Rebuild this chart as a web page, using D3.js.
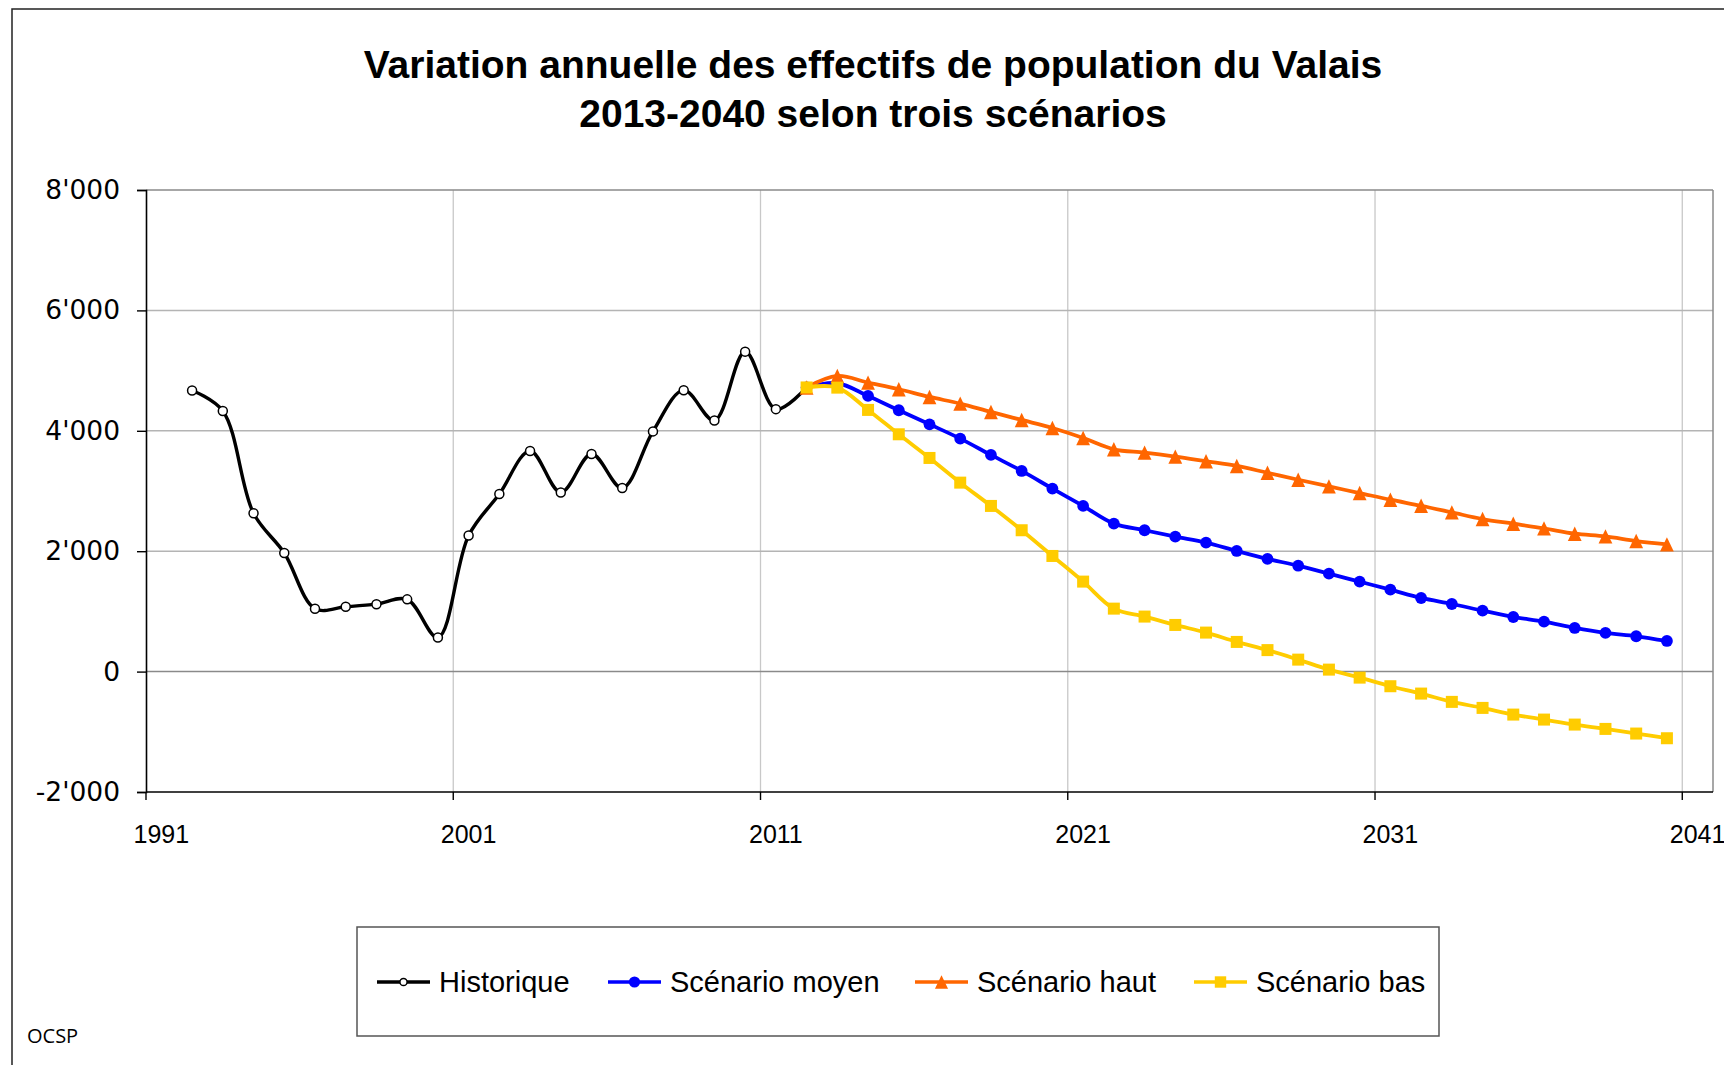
<!DOCTYPE html>
<html>
<head>
<meta charset="utf-8">
<script src="https://d3js.org/d3.v7.min.js"></script>
<style>
    body { margin: 0; background: #fff; }
    svg { display: block; font-family: "Liberation Sans", Arial, sans-serif; }
</style>
</head>
<body>
<div id="chart"></div>
<script>

// Historical data 1992-2012, scenarios 2012-2040 (base year 2012 shared)
var histYears = d3.range(1992, 2013);
var histValues = [4670, 4330, 2630, 1970, 1045, 1077, 1120, 1200, 565, 2260,
    2950, 3665, 2975, 3615, 3050, 3990, 4675, 4170, 5315, 4360, 4720];

var scenYears = d3.range(2012, 2041);
var moyenValues = [4720, 4790, 4579, 4341, 4108, 3870, 3599, 3333, 3040, 2752,
    2458, 2348, 2242, 2143, 2004, 1873, 1759, 1627, 1494, 1361,
    1223, 1123, 1013, 907, 830, 725, 642, 587, 509];
var hautValues = [4720, 4911, 4800, 4690, 4562, 4452, 4313, 4180, 4047, 3881,
    3693, 3638, 3571, 3494, 3416, 3302, 3187, 3076, 2966, 2855,
    2755, 2645, 2534, 2457, 2379, 2291, 2246, 2169, 2114];
var basValues = [4720, 4717, 4347, 3942, 3549, 3139, 2752, 2348, 1921, 1495,
    1046, 914, 775, 648, 493, 357, 199, 33, -100, -243,
    -365, -503, -603, -714, -797, -880, -952, -1029, -1107];

var axisYears = d3.range(1991, 2042);
var xTickYears = [1991, 2001, 2011, 2021, 2031, 2041];
var yTicks = [-2000, 0, 2000, 4000, 6000, 8000];

var titleLines = ["Variation annuelle des effectifs de population du Valais",
    "2013-2040 selon trois scénarios"];

var series = [
    {name: "Historique", years: histYears, values: histValues, color: "#000000", marker: "hist"},
    {name: "Scénario moyen", years: scenYears, values: moyenValues, color: "#0000FF", marker: "circle"},
    {name: "Scénario haut", years: scenYears, values: hautValues, color: "#FF6600", marker: "triangle"},
    {name: "Scénario bas", years: scenYears, values: basValues, color: "#FFCC00", marker: "square"}
];

var width = 1724, height = 1065;
var plot = {left: 146, right: 1713, top: 190, bottom: 792};

var svg = d3.select("#chart").append("svg")
    .attr("width", width)
    .attr("height", height);

// outer frame
svg.append("rect")
    .attr("x", 12).attr("y", 9)
    .attr("width", width).attr("height", height)
    .attr("fill", "none")
    .attr("stroke", "#222")
    .attr("stroke-width", 1.5);

// title
svg.selectAll(".title")
    .data(titleLines)
    .enter().append("text")
    .attr("class", "title")
    .attr("x", 873)
    .attr("y", function(d, i) { return 78 + i * 49; })
    .attr("text-anchor", "middle")
    .style("font-size", "39px")
    .style("font-weight", "bold")
    .text(function(d) { return d; });

// scales
var x = d3.scaleBand()
    .domain(axisYears)
    .range([plot.left, plot.right])
    .padding(0);

var y = d3.scaleLinear()
    .domain([-2000, 8000])
    .range([plot.bottom, plot.top]);

function cx(year) { return x(year) + x.bandwidth() / 2; }

var locale = d3.formatLocale({decimal: ".", thousands: "'", grouping: [3], currency: ["", ""], minus: "-"});
var fmt = locale.format(",d");

// grid lines
svg.append("g")
    .selectAll("line")
    .data(xTickYears.slice(1))
    .enter().append("line")
    .attr("x1", function(d) { return x(d); })
    .attr("x2", function(d) { return x(d); })
    .attr("y1", plot.top)
    .attr("y2", plot.bottom)
    .attr("stroke", "#c8c8c8")
    .attr("stroke-width", 1.3);

svg.append("g")
    .selectAll("line")
    .data(yTicks.slice(1))
    .enter().append("line")
    .attr("x1", plot.left)
    .attr("x2", plot.right)
    .attr("y1", function(d) { return y(d); })
    .attr("y2", function(d) { return y(d); })
    .attr("stroke", function(d) { return (d === 0 || d === 8000) ? "#8a8a8a" : "#b4b4b4"; })
    .attr("stroke-width", 1.5);

// right border of the plot area
svg.append("line")
    .attr("x1", plot.right).attr("x2", plot.right)
    .attr("y1", plot.top).attr("y2", plot.bottom)
    .attr("stroke", "#8a8a8a")
    .attr("stroke-width", 1.5);

// y axis
var yAxis = d3.axisLeft(y)
    .tickValues(yTicks)
    .tickFormat(fmt)
    .tickSize(9)
    .tickPadding(17);

var gy = svg.append("g")
    .attr("transform", "translate(" + plot.left + ",0)")
    .call(yAxis);
gy.select(".domain").attr("stroke", "#000").attr("stroke-width", 1.6);
gy.selectAll(".tick line").attr("stroke", "#000").attr("stroke-width", 1.4);
gy.selectAll(".tick text")
    .style("font-size", "26.5px")
    .style("font-family", "'DejaVu Sans', Verdana, sans-serif")
    .attr("fill", "#000");

// x axis: ticks at category boundaries, labels centred in categories
var gx = svg.append("g");
gx.append("line")
    .attr("x1", plot.left).attr("x2", plot.right)
    .attr("y1", plot.bottom).attr("y2", plot.bottom)
    .attr("stroke", "#000").attr("stroke-width", 1.6);
gx.selectAll(".xtick")
    .data(xTickYears)
    .enter().append("line")
    .attr("class", "xtick")
    .attr("x1", function(d) { return x(d); })
    .attr("x2", function(d) { return x(d); })
    .attr("y1", plot.bottom)
    .attr("y2", plot.bottom + 8)
    .attr("stroke", "#000").attr("stroke-width", 1.4);
gx.selectAll(".xlabel")
    .data(xTickYears)
    .enter().append("text")
    .attr("class", "xlabel")
    .attr("x", function(d) { return cx(d); })
    .attr("y", 843)
    .attr("text-anchor", "middle")
    .style("font-size", "25px")
    .text(function(d) { return d; });

// lines (smoothed like the spreadsheet original)
var line = d3.line()
    .x(function(d) { return cx(d.year); })
    .y(function(d) { return y(d.value); })
    .curve(d3.curveCatmullRom.alpha(0.5));

function points(s) {
    return s.years.map(function(yr, i) { return {year: yr, value: s.values[i]}; });
}

function drawMarker(g, type, color, size) {
    if (type === "hist") {
        g.append("circle").attr("r", 4.5 * size)
            .attr("fill", "#fff").attr("stroke", "#000").attr("stroke-width", 1.5);
    } else if (type === "circle") {
        g.append("circle").attr("r", 5.9 * size).attr("fill", color);
    } else if (type === "triangle") {
        var h = 7.2 * size, w = 6.9 * size;
        g.append("path")
            .attr("d", "M0," + (-h) + "L" + w + "," + h + "L" + (-w) + "," + h + "Z")
            .attr("fill", color);
    } else {
        var s = 12 * size;
        g.append("rect").attr("x", -s / 2).attr("y", -s / 2)
            .attr("width", s).attr("height", s).attr("fill", color);
    }
}

series.forEach(function(s) {
    var data = points(s);
    var g = svg.append("g");
    g.append("path")
        .datum(data)
        .attr("d", line)
        .attr("fill", "none")
        .attr("stroke", s.color)
        .attr("stroke-width", s.marker === "hist" ? 3.4 : 3.8)
        .attr("stroke-linejoin", "round");
    g.selectAll(".pt")
        .data(data)
        .enter().append("g")
        .attr("class", "pt")
        .attr("transform", function(d) { return "translate(" + cx(d.year) + "," + y(d.value) + ")"; })
        .each(function() { drawMarker(d3.select(this), s.marker, s.color, 1); });
});

// legend
var legend = svg.append("g");
legend.append("rect")
    .attr("x", 357).attr("y", 927)
    .attr("width", 1082).attr("height", 109)
    .attr("fill", "#fff")
    .attr("stroke", "#555")
    .attr("stroke-width", 1.5);

var legendX = [377, 608, 915, 1194];
var legendY = 982;

series.forEach(function(s, i) {
    var g = legend.append("g").attr("transform", "translate(" + legendX[i] + "," + legendY + ")");
    g.append("line")
        .attr("x1", 0).attr("x2", 53)
        .attr("stroke", s.color)
        .attr("stroke-width", 3.4);
    var m = g.append("g").attr("transform", "translate(26.5,0)");
    drawMarker(m, s.marker, s.color, s.marker === "hist" ? 0.8 : 0.95);
    g.append("text")
        .attr("x", 62)
        .attr("y", 10)
        .style("font-size", "29px")
        .text(s.name);
});

// source
svg.append("text")
    .attr("x", 27)
    .attr("y", 1043)
    .style("font-size", "20px")
    .style("font-family", "'Open Sans', 'Noto Sans', sans-serif")
    .text("OCSP");

</script>
</body>
</html>
